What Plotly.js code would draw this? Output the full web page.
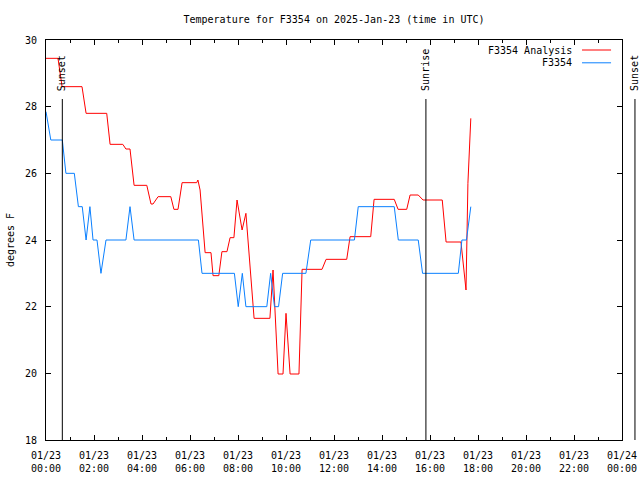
<!DOCTYPE html>
<html>
<head>
<meta charset="utf-8">
<script src="https://cdn.plot.ly/plotly-3.0.1.min.js"></script>
<style>html,body{margin:0;padding:0;background:#fff;}#chart{width:640px;height:480px;}</style>
</head>
<body>
<div id="chart"></div>
<script>
// Hours after 2025-01-23 00:00 UTC
const analysisHours = [0, 0.5, 0.67, 1.5, 1.67, 2.53, 2.67, 3.2, 3.33, 3.5, 3.67, 4.2, 4.375, 4.46, 4.67, 5.2, 5.33, 5.5, 5.67, 6.28, 6.33, 6.42, 6.63, 6.875, 6.96, 7.2, 7.33, 7.54, 7.67, 7.83, 7.96, 8.17, 8.33, 8.54, 8.67, 9.33, 9.46, 9.67, 9.875, 10.0, 10.17, 10.54, 10.67, 11.5, 11.67, 12.53, 12.67, 13.53, 13.67, 14.51, 14.67, 15.03, 15.17, 15.51, 15.71, 16.51, 16.67, 17.29, 17.375, 17.5, 17.58, 17.65, 17.7];
const analysisTemps = [29.45, 29.45, 28.6, 28.6, 27.8, 27.8, 26.87, 26.87, 26.73, 26.73, 25.64, 25.64, 25.08, 25.08, 25.3, 25.3, 24.92, 24.92, 25.72, 25.72, 25.8, 25.5, 23.62, 23.62, 22.93, 22.93, 23.65, 23.65, 24.07, 24.07, 25.2, 24.3, 24.8, 22.95, 21.65, 21.65, 23.1, 19.98, 19.98, 21.8, 19.98, 19.98, 23.12, 23.12, 23.42, 23.42, 24.1, 24.1, 25.22, 25.22, 24.92, 24.92, 25.35, 25.35, 25.2, 25.2, 23.94, 23.94, 23.4, 22.5, 25.7, 27.0, 27.65];

const obsHours = [0, 0.2, 0.68, 0.83, 1.18, 1.35, 1.51, 1.67, 1.83, 1.96, 2.125, 2.29, 2.5, 3.33, 3.5, 3.67, 6.35, 6.5, 7.85, 8.01, 8.18, 8.33, 9.2, 9.36, 9.52, 9.69, 9.86, 10.83, 11.03, 12.85, 13.01, 14.51, 14.68, 15.51, 15.69, 17.18, 17.33, 17.52, 17.7];
const obsTemps = [27.85, 27.0, 27.0, 26.0, 26.0, 25.0, 25.0, 24.0, 25.0, 24.0, 24.0, 23.0, 24.0, 24.0, 25.0, 24.0, 24.0, 23.0, 23.0, 22.0, 23.0, 22.0, 22.0, 23.0, 22.0, 22.0, 23.0, 23.0, 24.0, 24.0, 25.0, 25.0, 24.0, 24.0, 23.0, 23.0, 24.0, 24.0, 25.0];

const eventLabels = ['Sunset', 'Sunrise', 'Sunset'];
const eventHours = [0.68, 15.83, 24.54];

const seriesNames = ['F3354 Analysis', 'F3354'];
const seriesColors = ['#ff0000', '#0a80ff'];

const rangeHours = [0, 24];
const yRange = [18, 30];

const base = Date.UTC(2025, 0, 23, 0, 0, 0);
const HOUR = 3600 * 1000;
const toTime = h => base + h * HOUR;

const FONT = 'DejaVu Sans Mono, monospace';

const traces = [
  {x: analysisHours.map(toTime), y: analysisTemps, name: seriesNames[0], type: 'scatter', mode: 'lines',
   line: {color: seriesColors[0], width: 1}},
  {x: obsHours.map(toTime), y: obsTemps, name: seriesNames[1], type: 'scatter', mode: 'lines',
   line: {color: seriesColors[1], width: 1}}
];

const span = rangeHours[1] - rangeHours[0];
const shapes = [];
const annotations = [];
eventHours.forEach((h, i) => {
  const px = (h - rangeHours[0]) / span;
  shapes.push({type: 'line', xref: 'paper', yref: 'paper', x0: px, x1: px, y0: 0, y1: 0.8525,
               line: {color: '#000', width: 1}});
  annotations.push({xref: 'paper', yref: 'paper', x: px, y: 0.8675, xanchor: 'center', yanchor: 'bottom',
                    text: eventLabels[i], textangle: -90, showarrow: false,
                    font: {family: FONT, size: 10, color: '#000'}});
});

// legend (text left, sample right)
const legendY = [0.975, 0.943];
seriesNames.forEach((n, i) => {
  annotations.push({xref: 'paper', yref: 'paper', x: 0.9167, y: legendY[i], xanchor: 'right', yanchor: 'middle',
                    text: n, showarrow: false, font: {family: FONT, size: 10, color: '#000'}});
  shapes.push({type: 'line', xref: 'paper', yref: 'paper', x0: 0.9306, x1: 0.981, y0: legendY[i], y1: legendY[i],
               line: {color: seriesColors[i], width: 1}});
});

const layout = {
  width: 640, height: 480,
  margin: {l: 46, r: 18, t: 40, b: 40, pad: 0},
  paper_bgcolor: '#fff', plot_bgcolor: '#fff',
  showlegend: false,
  font: {family: FONT, size: 10, color: '#000'},
  title: {text: 'Temperature for F3354 on 2025-Jan-23 (time in UTC)', x: 0.5, xref: 'paper', xanchor: 'center',
          y: 1 - 19 / 480, yref: 'container', yanchor: 'middle', font: {family: FONT, size: 10, color: '#000'}},
  xaxis: {
    type: 'date', range: [toTime(rangeHours[0]), toTime(rangeHours[1])],
    tick0: toTime(0), dtick: 2 * HOUR, tickformat: '%m/%d<br>%H:%M',
    ticks: 'inside', ticklen: 5, tickcolor: '#000', tickwidth: 1,
    minor: {dtick: HOUR, ticks: 'inside', ticklen: 3, tickcolor: '#000', tickwidth: 1, showgrid: false},
    showline: true, linecolor: '#000', linewidth: 1, mirror: 'ticks',
    showgrid: false, zeroline: false, fixedrange: true, ticklabelstandoff: 6,
    tickfont: {family: FONT, size: 10, color: '#000'}
  },
  yaxis: {
    range: yRange, tick0: 18, dtick: 2,
    ticks: 'inside', ticklen: 5, tickcolor: '#000', tickwidth: 1,
    showline: true, linecolor: '#000', linewidth: 1, mirror: 'ticks',
    showgrid: false, zeroline: false, ticklabelstandoff: 6,
    tickfont: {family: FONT, size: 10, color: '#000'},
    title: {text: 'degrees F', standoff: 8, font: {family: FONT, size: 10, color: '#000'}}
  },
  shapes: shapes,
  annotations: annotations
};

Plotly.newPlot('chart', traces, layout, {staticPlot: true, displayModeBar: false});
</script>
</body>
</html>
